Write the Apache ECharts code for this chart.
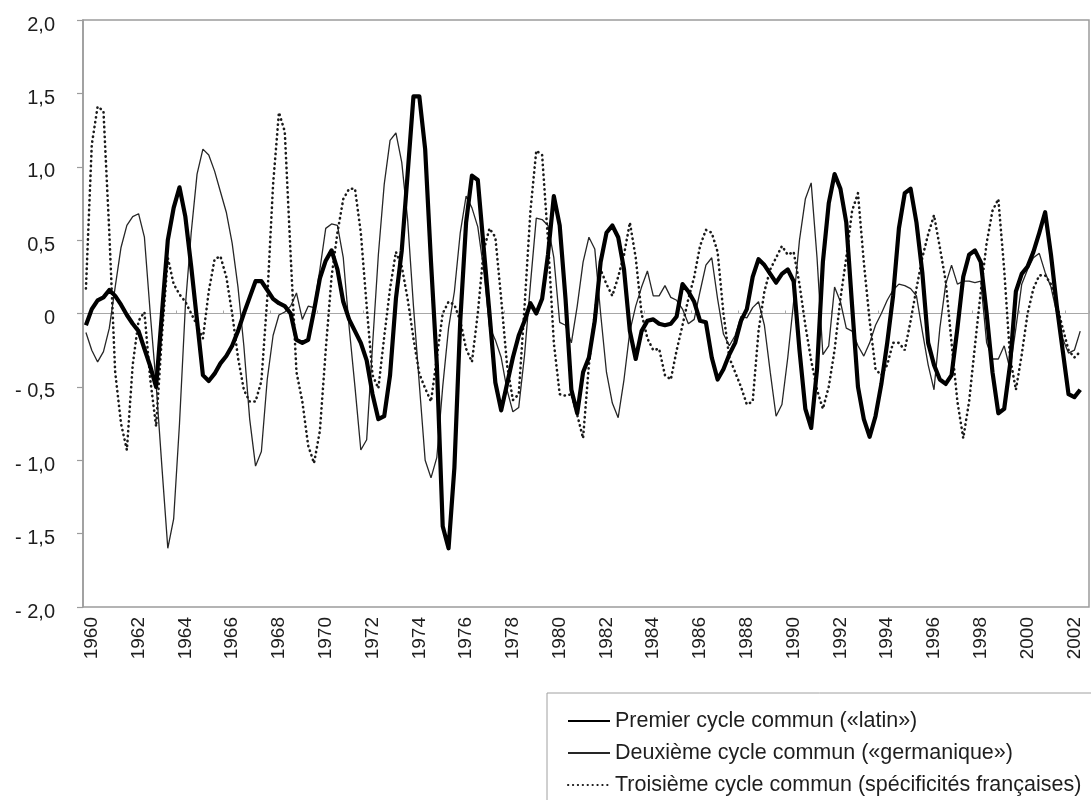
<!DOCTYPE html>
<html>
<head>
<meta charset="utf-8">
<style>
  html, body { margin: 0; padding: 0; background: #fff; }
  #chart { width: 1091px; height: 800px; }
</style>
<script src="https://cdn.jsdelivr.net/npm/echarts@6/dist/echarts.min.js"></script>
</head>
<body>
<div id="chart"></div>
<script>
// Quarterly categories: first quarter shown is 1959 T4, 172 slots on the axis
const startYear = 1959;
const startQuarter = 4;
const slotCount = 172;
const tickYears = ['1960','1962','1964','1966','1968','1970','1972','1974','1976','1978','1980',
  '1982','1984','1986','1988','1990','1992','1994','1996','1998','2000','2002'];
const yTicks = [-2, -1.5, -1, -0.5, 0, 0.5, 1, 1.5, 2];

const seriesNames = [
  'Premier cycle commun (\u00ablatin\u00bb)',
  'Deuxi\u00e8me cycle commun (\u00abgermanique\u00bb)',
  'Troisi\u00e8me cycle commun (sp\u00e9cificit\u00e9s fran\u00e7aises)'
];

const latin = [
  -0.08, 0.03, 0.09, 0.11, 0.16, 0.12, 0.06, -0.01, -0.07, -0.12,
  -0.24, -0.36, -0.50, 0.00, 0.50, 0.72, 0.86, 0.66, 0.32, -0.05,
  -0.42, -0.46, -0.41, -0.34, -0.29, -0.22, -0.12, 0.00, 0.11, 0.22,
  0.22, 0.16, 0.10, 0.07, 0.05, 0.00, -0.18, -0.20, -0.18, 0.02,
  0.24, 0.36, 0.43, 0.30, 0.08, -0.04, -0.12, -0.20, -0.32, -0.55,
  -0.72, -0.70, -0.42, 0.10, 0.43, 0.95, 1.48, 1.48, 1.12, 0.35,
  -0.35, -1.45, -1.60, -1.05, -0.05, 0.62, 0.94, 0.91, 0.45, 0.00,
  -0.47, -0.66, -0.48, -0.30, -0.15, -0.05, 0.07, 0.00, 0.10, 0.40,
  0.80, 0.60, 0.10, -0.52, -0.68, -0.40, -0.30, -0.05, 0.35, 0.55,
  0.60, 0.52, 0.30, -0.12, -0.31, -0.12, -0.05, -0.04, -0.07, -0.08,
  -0.07, -0.02, 0.20, 0.15, 0.08, -0.05, -0.06, -0.30, -0.45, -0.38,
  -0.28, -0.20, -0.05, 0.03, 0.25, 0.37, 0.33, 0.27, 0.21, 0.27,
  0.30, 0.22, -0.25, -0.65, -0.78, -0.38, 0.35, 0.75, 0.95, 0.85,
  0.62, 0.05, -0.50, -0.72, -0.84, -0.70, -0.48, -0.20, 0.12, 0.58,
  0.82, 0.85, 0.62, 0.28, -0.20, -0.35, -0.45, -0.48, -0.42, -0.10,
  0.25, 0.40, 0.43, 0.35, 0.00, -0.40, -0.68, -0.65, -0.35, 0.15,
  0.27, 0.32, 0.42, 0.55, 0.69, 0.40, 0.05, -0.25, -0.55, -0.57,
  -0.52
];

const germanique = [
  -0.13, -0.25, -0.33, -0.26, -0.10, 0.18, 0.45, 0.60, 0.66, 0.68,
  0.52, 0.00, -0.48, -1.05, -1.60, -1.40, -0.75, 0.05, 0.55, 0.95,
  1.12, 1.08, 0.97, 0.83, 0.69, 0.48, 0.18, -0.22, -0.72, -1.04,
  -0.94, -0.45, -0.15, -0.01, 0.01, 0.05, 0.14, -0.04, 0.05, 0.04,
  0.30, 0.58, 0.61, 0.60, 0.38, -0.09, -0.50, -0.93, -0.86, -0.22,
  0.40, 0.88, 1.18, 1.23, 1.03, 0.64, 0.05, -0.48, -1.00, -1.12,
  -0.98, -0.50, -0.10, 0.15, 0.55, 0.80, 0.72, 0.59, 0.30, -0.09,
  -0.18, -0.30, -0.52, -0.67, -0.64, -0.28, 0.20, 0.65, 0.64, 0.60,
  0.38, -0.06, -0.08, -0.20, 0.05, 0.35, 0.52, 0.44, 0.00, -0.40,
  -0.61, -0.71, -0.45, -0.12, 0.05, 0.18, 0.29, 0.12, 0.12, 0.19,
  0.11, 0.09, 0.03, -0.07, -0.04, 0.15, 0.33, 0.38, 0.10, -0.14,
  -0.22, -0.15, -0.02, -0.03, 0.04, 0.08, -0.08, -0.40, -0.70, -0.62,
  -0.30, 0.08, 0.50, 0.78, 0.89, 0.38, -0.28, -0.22, 0.18, 0.08,
  -0.10, -0.12, -0.22, -0.29, -0.20, -0.08, 0.00, 0.09, 0.16, 0.20,
  0.19, 0.17, 0.12, -0.12, -0.35, -0.52, -0.10, 0.20, 0.33, 0.20,
  0.22, 0.22, 0.21, 0.22, -0.20, -0.31, -0.31, -0.22, -0.38, -0.10,
  0.20, 0.30, 0.38, 0.41, 0.28, 0.18, 0.00, -0.17, -0.27, -0.25,
  -0.12
];

const francaise = [
  0.17, 1.15, 1.41, 1.38, 0.55, -0.40, -0.75, -0.93, -0.35, -0.05,
  0.01, -0.45, -0.77, -0.15, 0.38, 0.20, 0.13, 0.08, 0.00, -0.08,
  -0.17, 0.15, 0.37, 0.39, 0.25, 0.00, -0.30, -0.52, -0.60, -0.60,
  -0.46, 0.10, 0.88, 1.37, 1.24, 0.40, -0.40, -0.60, -0.90, -1.02,
  -0.80, -0.25, 0.25, 0.55, 0.78, 0.85, 0.85, 0.55, 0.05, -0.42,
  -0.51, -0.16, 0.17, 0.42, 0.32, 0.10, -0.17, -0.41, -0.51, -0.60,
  -0.30, 0.00, 0.08, 0.06, -0.05, -0.24, -0.33, 0.00, 0.43, 0.58,
  0.52, 0.10, -0.35, -0.59, -0.55, 0.05, 0.70, 1.11, 1.08, 0.50,
  -0.20, -0.55, -0.56, -0.55, -0.69, -0.85, -0.35, 0.00, 0.30, 0.20,
  0.12, 0.25, 0.40, 0.62, 0.38, 0.00, -0.17, -0.25, -0.24, -0.42,
  -0.45, -0.25, -0.08, 0.10, 0.25, 0.46, 0.57, 0.55, 0.42, 0.00,
  -0.30, -0.40, -0.50, -0.62, -0.60, -0.12, 0.15, 0.30, 0.38, 0.46,
  0.40, 0.42, 0.20, -0.08, -0.32, -0.52, -0.65, -0.50, -0.25, 0.10,
  0.38, 0.70, 0.82, 0.35, -0.05, -0.38, -0.42, -0.35, -0.20, -0.20,
  -0.25, -0.05, 0.17, 0.38, 0.54, 0.67, 0.45, 0.22, -0.20, -0.60,
  -0.85, -0.60, -0.22, 0.15, 0.48, 0.70, 0.78, 0.30, -0.30, -0.52,
  -0.28, 0.00, 0.17, 0.26, 0.26, 0.20, 0.06, -0.10, -0.25, -0.30,
  -0.26
];

// Build quarter category names
const categories = [];
for (let k = 0; k < slotCount; k++) {
  const q0 = (startQuarter - 1) + k;
  const y = startYear + Math.floor(q0 / 4);
  const q = (q0 % 4) + 1;
  categories.push(y + '-T' + q);
}
const tickSet = new Set(tickYears.map(y => y + '-T1'));

const FONT = '"Liberation Sans", Arial, sans-serif';
const TXT = '#1e1e1e';
const GRAYLINE = '#9c9c9c';

const chart = echarts.init(document.getElementById('chart'), null, { renderer: 'canvas' });

function fmtY(v) {
  if (Math.abs(v) < 1e-9) return '0';
  const s = Math.abs(v).toFixed(1).replace('.', ',');
  return v < 0 ? '- ' + s : s;
}

chart.setOption({
  backgroundColor: '#ffffff',
  animation: false,
  textStyle: { fontFamily: FONT },
  grid: {
    left: 83, top: 20, right: 2, bottom: 193,
    show: true, borderColor: GRAYLINE, borderWidth: 1.5, backgroundColor: 'transparent'
  },
  legend: {
    orient: 'vertical',
    left: 547, top: 693,
    height: 300,
    itemWidth: 42, itemHeight: 22, itemGap: 10,
    padding: [17, 80, 40, 20],
    borderColor: '#a0a0a0', borderWidth: 1,
    backgroundColor: '#fff',
    selectedMode: false,
    itemStyle: { color: 'rgba(0,0,0,0)', borderWidth: 0 },
    textStyle: { fontSize: 21.5, lineHeight: 22, color: TXT, fontFamily: FONT },
    data: seriesNames
  },
  xAxis: [
    {
      type: 'category',
      data: categories,
      boundaryGap: true,
      position: 'bottom',
      axisLine: { show: false, onZero: false },
      axisTick: { show: false },
      splitLine: { show: false },
      axisLabel: {
        rotate: 90,
        margin: 10,
        fontSize: 19,
        color: TXT,
        fontFamily: FONT,
        interval: (idx, val) => tickSet.has(val),
        formatter: (val) => val.split('-')[0]
      }
    },
    {
      type: 'category',
      data: categories,
      boundaryGap: true,
      axisLine: { show: true, onZero: true, lineStyle: { color: '#a8a8a8', width: 1 } },
      axisTick: {
        show: true, length: 3, inside: false,
        interval: (idx) => idx % 8 === 0,
        lineStyle: { color: '#a8a8a8', width: 1 }
      },
      axisLabel: { show: false },
      splitLine: { show: false }
    }
  ],
  yAxis: {
    type: 'value',
    min: -2, max: 2, interval: 0.5,
    axisLine: { show: true, lineStyle: { color: GRAYLINE, width: 1.5 } },
    axisTick: { show: true, length: 6, inside: false, lineStyle: { color: GRAYLINE, width: 1.2 } },
    splitLine: { show: false },
    axisLabel: {
      margin: 28, fontSize: 20, color: TXT, fontFamily: FONT,
      verticalAlign: 'top', lineHeight: 10,
      formatter: (v) => yTicks.some(t => Math.abs(t - v) < 1e-9) ? fmtY(v) : ''
    }
  },
  series: [
    {
      name: seriesNames[1], type: 'line', data: germanique, xAxisIndex: 0,
      symbol: 'none', smooth: false, z: 2,
      lineStyle: { color: '#262626', width: 1.3 }
    },
    {
      name: seriesNames[2], type: 'line', data: francaise, xAxisIndex: 0,
      symbol: 'none', smooth: false, z: 2,
      lineStyle: { color: '#1a1a1a', width: 2.6, type: [0.3, 4.6], cap: 'round' }
    },
    {
      name: seriesNames[0], type: 'line', data: latin, xAxisIndex: 0,
      symbol: 'none', smooth: false, z: 3,
      lineStyle: { color: '#000000', width: 4.2, join: 'round' }
    }
  ]
});
</script>
</body>
</html>
